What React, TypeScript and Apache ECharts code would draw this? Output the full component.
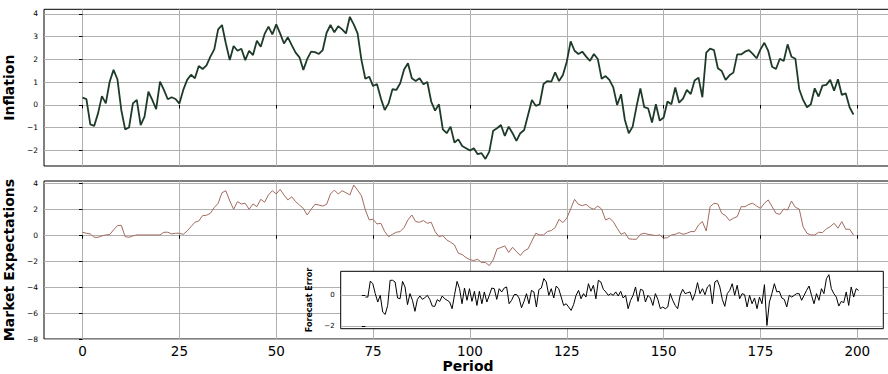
import { useEffect, useRef } from "react";
import * as echarts from "echarts";

// Simulated inflation path, period 0..199
const inflation = [
  0.32, 0.26, -0.85, -0.92, -0.37, 0.39, 0.07, 1.02, 1.54, 1.13,
  -0.22, -1.07, -0.99, 0.07, 0.22, -0.88, -0.51, 0.58, 0.22, -0.18,
  1.02, 0.66, 0.25, 0.34, 0.26, 0.06, 0.66, 1.1, 1.33, 1.17,
  1.71, 1.58, 1.74, 2.12, 2.44, 3.32, 3.51, 2.7, 1.97, 2.59,
  2.38, 2.47, 1.97, 2.38, 2.19, 2.82, 2.56, 3.12, 3.44, 3.1,
  3.54, 3.14, 2.7, 2.97, 2.63, 2.3, 2.09, 1.54, 2.02, 2.34,
  2.32, 2.24, 2.41, 3.17, 3.51, 3.19, 3.46, 3.32, 3.14, 3.87,
  3.54, 3.14, 1.97, 1.15, 1.24, 0.83, 0.92, 0.29, -0.22, 0.07,
  0.69, 0.66, 0.95, 1.56, 1.83, 1.17, 1.05, 1.17, 0.91, 1.01,
  0.15, -0.25, 0.03, -1.07, -1.24, -0.95, -1.65, -1.51, -1.8, -1.9,
  -2.0, -1.9, -2.16, -2.12, -2.37, -2.05, -1.13, -1.02, -0.88, -1.36,
  -0.95, -1.24, -1.58, -1.24, -1.1, -0.44, 0.22, -0.04, 0.03, 0.92,
  1.05, 1.02, 1.43, 1.05, 1.32, 1.9, 2.79, 2.38, 2.24, 2.34,
  2.12, 1.94, 2.24, 2.02, 1.15, 1.27, 1.1, 0.77, 0.0, 0.47,
  -0.66, -1.24, -0.95, -0.07, 0.73, -0.1, -0.15, -0.77, 0.03, -0.69,
  -0.55, 0.15, 0.03, 0.77, 0.1, 0.28, 0.66, 0.48, 1.07, 1.2,
  0.34, 2.3, 2.47, 2.41, 1.61, 1.49, 1.1, 1.3, 1.42, 2.22,
  2.22, 2.34, 2.41, 2.24, 2.05, 2.44, 2.73, 2.37, 1.68, 1.58,
  2.03, 1.93, 2.66, 2.12, 2.03, 0.69, 0.22, -0.1, 0.03, 0.73,
  0.37, 0.85, 0.88, 1.1, 0.63, 1.13, 0.44, 0.51, -0.1, -0.42,
];

// Market expectations of inflation, period 0..199
const expectations = [
  0.23, 0.15, 0.1, -0.16, -0.16, -0.05, 0.02, 0.05, 0.41, 0.74,
  0.77, -0.11, -0.16, -0.05, 0.02, 0.02, 0.02, 0.02, 0.02, 0.02,
  0.02, 0.23, 0.23, 0.1, 0.15, 0.15, 0.07, 0.33, 0.66, 1.0,
  1.1, 1.51, 1.54, 1.69, 2.13, 2.46, 3.28, 3.43, 2.64, 2.0,
  2.59, 2.41, 2.46, 2.0, 2.41, 2.2, 2.77, 2.54, 3.12, 3.43,
  3.18, 3.54, 3.1, 2.72, 2.97, 2.59, 2.33, 2.07, 1.56, 2.0,
  2.38, 2.33, 2.25, 2.38, 3.18, 3.48, 3.18, 3.43, 3.28, 3.1,
  3.87, 3.48, 3.05, 1.95, 1.18, 1.23, 0.87, 0.92, 0.28, -0.11,
  0.07, 0.23, 0.28, 0.59, 1.18, 1.56, 1.05, 1.0, 1.13, 0.92,
  1.0, 0.28, -0.11, -0.03, -0.36, -0.54, -0.75, -1.39, -1.49, -1.73,
  -1.88, -1.95, -1.85, -2.1, -2.1, -2.34, -1.9, -1.05, -0.95, -0.82,
  -1.33, -0.93, -1.26, -1.56, -1.21, -1.05, -0.44, 0.15, 0.02, 0.02,
  0.28, 0.36, 0.59, 1.23, 0.97, 1.31, 2.02, 2.77, 2.38, 2.28,
  2.38, 2.12, 2.0, 2.25, 2.02, 1.18, 1.31, 1.05, 0.54, 0.07,
  0.2, -0.28, -0.31, -0.31, 0.07, 0.15, 0.07, 0.02, -0.03, 0.02,
  -0.23, -0.18, 0.02, 0.07, 0.2, 0.07, 0.15, 0.28, 0.28, 0.79,
  1.05, 0.33, 2.2, 2.46, 2.41, 1.69, 1.51, 1.13, 1.31, 1.43,
  2.2, 2.2, 2.38, 2.46, 2.25, 2.07, 2.46, 2.72, 2.2, 1.69,
  1.61, 2.02, 1.95, 2.64, 2.15, 2.02, 0.66, 0.15, 0.02, 0.02,
  0.23, 0.2, 0.49, 0.66, 0.92, 0.54, 1.05, 0.46, 0.46, 0.02,
];

// Forecast error, period 0..199
const forecastError = [
  -0.11, -0.11, 0.92, 0.75, 0.11, -0.43, 0.0, -1.08, -1.23, -0.65,
  0.97, 0.97, 0.86, -0.17, -0.22, 0.9, 0.54, -0.6, 0.11, -0.32,
  -1.03, -0.26, -0.04, -0.26, -0.15, 0.0, -0.26, -0.69, -0.71, -0.28,
  -0.39, -0.04, -0.22, -0.32, -0.43, -0.86, 0.06, 0.9, 0.43, -0.54,
  0.47, -0.32, 0.43, -0.39, 0.26, -0.65, 0.26, -0.54, 0.22, -0.43,
  0.0, 0.47, 0.43, -0.26, 0.43, 0.22, 0.47, 0.54, -0.54, -0.32,
  0.04, 0.06, -0.17, -0.8, -0.39, 0.11, -0.54, 0.32, 0.22, -0.75,
  0.37, 0.47, 1.08, 0.86, 0.0, 0.43, -0.17, 0.6, 0.43, -0.11,
  -0.65, -0.54, -0.75, -0.97, -0.6, 0.0, 0.32, -0.22, 0.11, -0.11,
  0.75, 0.26, 0.65, -0.22, 0.97, 0.86, 0.39, 0.22, 0.0, 0.11,
  0.0, 0.22, -0.04, 0.26, -0.17, 0.0, -0.86, -0.32, 0.0, 0.54,
  -0.39, 0.39, 0.32, -0.43, 0.0, -0.17, -0.65, 0.11, -0.26, -0.86,
  -0.75, -0.86, -0.75, 0.11, -0.32, -0.65, -0.86, 0.0, 0.39, 0.11,
  0.17, 0.22, -0.32, 0.11, 0.82, 0.11, 0.43, 0.04, 0.54, 0.69,
  -0.54, 0.86, 0.97, 0.54, -0.26, -0.71, 0.11, 0.32, 0.75, 0.0,
  0.65, -0.22, 0.11, 0.04, -0.75, 0.0, -0.54, -0.17, -0.86, -0.11,
  -0.54, 0.69, -1.94, -0.43, 0.11, 0.75, 0.22, 0.26, -0.17, -0.26,
  -0.75, 0.0, -0.11, 0.0, 0.11, 0.11, -0.32, 0.0, 0.32, 0.6,
  0.0, -0.54, 0.11, -0.32, 0.43, 0.11, 1.08, 1.33, 0.43, 0.11,
  -0.11, -0.69, -0.39, -0.47, 0.22, -0.65, 0.54, -0.11, 0.43, 0.32,
];

const periodTicks = [0, 25, 50, 75, 100, 125, 150, 175, 200];
const inflationTicks = [-2, -1, 0, 1, 2, 3, 4];
const expectationTicks = [-8, -6, -4, -2, 0, 2, 4];
const errorTicks = [-2, 0];

const FONT = "DejaVu Sans";
const GRID_COLOR = "#b0b0b0";
const fmt = (v: number) => String(v).replace("-", "\u2212");
const toPoints = (values: number[]) => values.map((v, i) => [i, v]);

function valueAxis(opts: any) {
  const { ticks, min, max, labelSize, showLabels, showGrid, tickLen, z } = opts;
  return {
    type: "value",
    min,
    max,
    z,
    axisLine: { show: false },
    axisTick: {
      show: tickLen > 0,
      inside: false,
      length: tickLen,
      lineStyle: { color: "#000", width: 1 },
      customValues: ticks,
    },
    axisLabel: {
      show: showLabels,
      customValues: ticks,
      fontSize: labelSize,
      fontFamily: FONT,
      color: "#000",
      margin: opts.margin ?? 6,
      formatter: fmt,
    },
    splitLine: {
      show: showGrid,
      customValues: ticks,
      lineStyle: { color: GRID_COLOR, width: 1 },
    },
  };
}

const gridBase = {
  show: true,
  borderColor: "#000",
  borderWidth: 1,
  containLabel: false,
  outerBoundsMode: "none",
};

export default function App() {
  const ref = useRef<HTMLDivElement>(null);

  useEffect(() => {
    if (!ref.current) return;
    const chart = echarts.init(ref.current, undefined, { renderer: "svg" });

    const xMin = -9.95;
    const xMax = 208.95;
    const nameStyle = { fontSize: 14, fontWeight: "bold", fontFamily: FONT, color: "#000" };

    chart.setOption({
      animation: false,
      backgroundColor: "#fff",
      textStyle: { fontFamily: FONT },
      grid: [
        { ...gridBase, left: 44, top: 9.3, width: 848, height: 156.7, backgroundColor: "transparent" },
        { ...gridBase, left: 44, top: 181, width: 848, height: 158, backgroundColor: "transparent" },
        { ...gridBase, left: 340.7, top: 271.3, width: 542.6, height: 57.4, backgroundColor: "#fff", z: 5 },
      ],
      xAxis: [
        { ...valueAxis({ ticks: periodTicks, min: xMin, max: xMax, labelSize: 13, showLabels: false, showGrid: true, tickLen: 3.5 }), gridIndex: 0 },
        {
          ...valueAxis({ ticks: periodTicks, min: xMin, max: xMax, labelSize: 13.5, showLabels: true, showGrid: true, tickLen: 3.5, margin: 5 }),
          gridIndex: 1,
          name: "Period",
          nameLocation: "middle",
          nameGap: 20,
          nameTextStyle: nameStyle,
        },
        { ...valueAxis({ ticks: periodTicks, min: xMin, max: xMax, labelSize: 7, showLabels: false, showGrid: false, tickLen: 0, z: 6 }), gridIndex: 2 },
      ],
      yAxis: [
        {
          ...valueAxis({ ticks: inflationTicks, min: -2.68, max: 4.2, labelSize: 7.5, showLabels: true, showGrid: true, tickLen: 3.5 }),
          gridIndex: 0,
          name: "Inflation",
          nameLocation: "middle",
          nameRotate: 90,
          nameGap: 19,
          nameTextStyle: nameStyle,
        },
        {
          ...valueAxis({ ticks: expectationTicks, min: -8, max: 4.18, labelSize: 7.5, showLabels: true, showGrid: true, tickLen: 3.5 }),
          gridIndex: 1,
          name: "Market Expectations",
          nameLocation: "middle",
          nameRotate: 90,
          nameGap: 19,
          nameTextStyle: nameStyle,
        },
        {
          ...valueAxis({ ticks: errorTicks, min: -2.15, max: 1.55, labelSize: 7, showLabels: true, showGrid: true, tickLen: 3.5, z: 6, margin: 6 }),
          gridIndex: 2,
          name: "Forecast Error",
          nameLocation: "middle",
          nameRotate: 90,
          nameGap: 19,
          nameTextStyle: { ...nameStyle, fontSize: 8 },
        },
      ],
      series: [
        {
          type: "line",
          name: "Inflation",
          xAxisIndex: 0,
          yAxisIndex: 0,
          data: toPoints(inflation),
          showSymbol: false,
          lineStyle: { color: "#1e3b29", width: 1.8 },
        },
        {
          type: "line",
          name: "Market Expectations",
          xAxisIndex: 1,
          yAxisIndex: 1,
          data: toPoints(expectations),
          showSymbol: false,
          lineStyle: { color: "#a26b5f", width: 1 },
        },
        {
          type: "line",
          name: "Forecast Error",
          xAxisIndex: 2,
          yAxisIndex: 2,
          z: 7,
          data: toPoints(forecastError),
          showSymbol: false,
          lineStyle: { color: "#000", width: 1 },
        },
      ],
    });

    return () => chart.dispose();
  }, []);

  return (
    <div
      ref={ref}
      style={{ position: "fixed", left: 0, top: 0, width: 888, height: 374 }}
    />
  );
}
